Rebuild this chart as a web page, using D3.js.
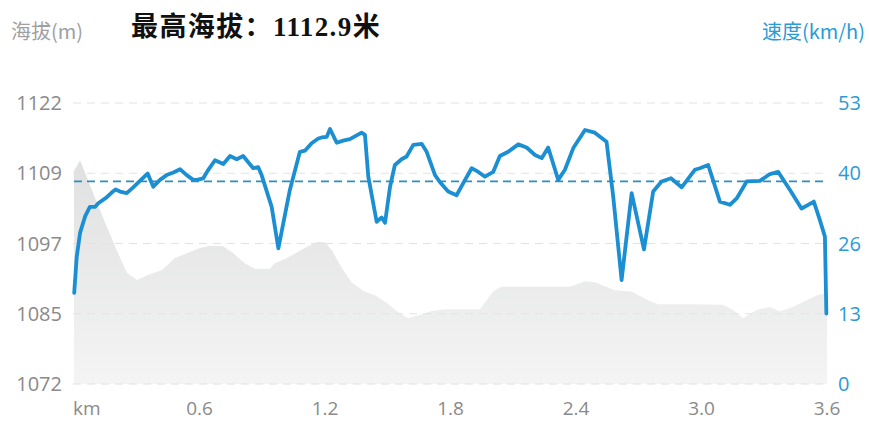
<!DOCTYPE html>
<html><head><meta charset="utf-8">
<script src="https://cdn.jsdelivr.net/npm/d3@7"></script>
<style>html,body{margin:0;padding:0;background:#fff;}svg{display:block;}</style>
</head><body>
<svg id="c" width="869" height="421"></svg>
<script>
// ---- data ----
const elevDist = [0.000,0.029,0.076,0.148,0.210,0.253,0.301,0.354,0.421,0.483,0.541,0.602,0.650,0.712,0.760,0.817,0.865,0.937,0.956,1.018,1.080,1.114,1.166,1.200,1.233,1.281,1.329,1.391,1.439,1.496,1.549,1.597,1.654,1.711,1.773,1.941,2.003,2.027,2.046,2.371,2.443,2.490,2.586,2.667,2.744,2.792,2.945,3.102,3.150,3.198,3.265,3.327,3.375,3.437,3.504,3.552,3.600];
const elevation = [1109.9,1111.8,1107.4,1100.8,1095.3,1091.8,1090.5,1091.4,1092.3,1094.4,1095.3,1096.2,1096.6,1096.5,1095.3,1093.5,1092.5,1092.5,1093.4,1094.4,1095.7,1096.4,1097.3,1097.2,1095.8,1092.6,1090.0,1088.4,1087.8,1086.4,1084.8,1083.7,1084.3,1085.0,1085.3,1085.3,1088.4,1089.0,1089.3,1089.3,1090.3,1090.1,1088.7,1088.4,1086.9,1086.2,1086.2,1086.1,1085.2,1083.7,1085.2,1085.7,1084.9,1085.7,1086.9,1087.8,1088.2];
const speedDist = [0.001,0.013,0.029,0.053,0.076,0.100,0.116,0.156,0.180,0.199,0.220,0.252,0.283,0.315,0.352,0.379,0.411,0.443,0.475,0.507,0.539,0.570,0.587,0.618,0.642,0.674,0.714,0.746,0.778,0.809,0.838,0.857,0.881,0.897,0.945,0.977,1.032,1.080,1.104,1.136,1.168,1.184,1.208,1.224,1.256,1.287,1.319,1.375,1.391,1.407,1.447,1.471,1.487,1.511,1.534,1.566,1.590,1.622,1.662,1.686,1.726,1.749,1.789,1.829,1.861,1.901,1.933,1.965,2.004,2.036,2.076,2.124,2.164,2.204,2.236,2.267,2.315,2.347,2.387,2.443,2.490,2.546,2.578,2.618,2.666,2.725,2.769,2.809,2.854,2.905,2.968,2.992,3.032,3.088,3.136,3.168,3.216,3.279,3.327,3.367,3.423,3.478,3.510,3.537,3.566,3.590,3.597];
const speed = [17.2,24.0,28.5,31.6,33.4,33.4,34.1,35.2,36.1,36.7,36.3,36.0,37.1,38.3,39.7,37.2,38.5,39.4,39.9,40.5,39.4,38.5,38.5,38.8,40.4,42.2,41.5,43.0,42.4,43.0,41.6,40.7,40.9,39.4,33.4,25.6,36.6,43.8,44.0,45.4,46.3,46.5,46.6,48.1,45.5,45.9,46.2,47.4,47.0,39.1,30.6,31.4,30.4,37.2,41.3,42.4,42.9,45.1,45.3,43.8,39.4,38.1,36.3,35.6,37.9,40.7,40.0,39.1,40.0,43.0,43.8,45.2,44.6,43.2,42.6,44.6,38.5,40.4,44.5,47.9,47.4,45.7,35.3,19.6,36.0,25.4,36.3,38.2,38.8,37.1,40.4,40.7,41.3,34.4,33.8,35.0,38.2,38.3,39.6,40.0,36.6,33.1,33.8,34.4,30.9,27.8,13.3];
const avgSpeed = 38.2;
const elevTickLabels = ["1072","1085","1097","1109","1122"];
const speedTickLabels = ["0","13","26","40","53"];
const xTickValues = [0, 0.6, 1.2, 1.8, 2.4, 3.0, 3.6];
const xTickLabels = ["km","0.6","1.2","1.8","2.4","3.0","3.6"];
const titleText = "最高海拔：1112.9米";
const leftAxisTitle = "海拔(m)";
const rightAxisTitle = "速度(km/h)";

// ---- layout ----
const L = 74, R = 827, T = 103, B = 384;
const svg = d3.select("#c");
const x = d3.scaleLinear().domain([0, 3.6]).range([L, R]);
const yE = d3.scaleLinear().domain([1072, 1122]).range([B, T]);
const yS = d3.scaleLinear().domain([0, 53]).range([B, T]);

const defs = svg.append("defs");
const g = defs.append("linearGradient").attr("id","ag")
  .attr("gradientUnits","userSpaceOnUse").attr("x1",0).attr("x2",0).attr("y1",T).attr("y2",B);
g.append("stop").attr("offset","0%").attr("stop-color","#dadbdc");
g.append("stop").attr("offset","100%").attr("stop-color","#f4f4f4");

// area
const elevData = elevDist.map((d,i)=>({d, e: elevation[i]}));
svg.append("path").datum(elevData)
  .attr("fill","url(#ag)")
  .attr("d", d3.area().x(p=>x(p.d)).y0(B).y1(p=>yE(p.e)));

// gridlines
const nT = elevTickLabels.length;
const gridVals = d3.range(nT).map(i => 1072 + i*(1122-1072)/(nT-1));
svg.append("g").selectAll("line").data(gridVals).join("line")
  .attr("x1", L-1).attr("x2", R).attr("y1", d=>yE(d)).attr("y2", d=>yE(d))
  .attr("stroke","#e2e2e2").attr("stroke-width",1).attr("stroke-dasharray","8,6");

// avg line
svg.append("line").attr("x1",L).attr("x2",R).attr("y1",yS(avgSpeed)).attr("y2",yS(avgSpeed))
  .attr("stroke","#2b8fbf").attr("stroke-width",1.8).attr("stroke-dasharray","8,5");

// speed line
const spData = speedDist.map((d,i)=>({d, s: speed[i]}));
svg.append("path").datum(spData)
  .attr("fill","none").attr("stroke","#1b8fd1").attr("stroke-width",3.8)
  .attr("stroke-linejoin","round").attr("stroke-linecap","round")
  .attr("d", d3.line().x(p=>x(p.d)).y(p=>yS(p.s)));

// left axis labels
const fontTick = "'Open Sans', 'Noto Sans', sans-serif";
svg.append("g").selectAll("text").data(gridVals).join("text")
  .attr("x", 62).attr("y", d=>yE(d)).attr("dy","0.36em").attr("text-anchor","end")
  .attr("font-family", fontTick).attr("font-size", 20).attr("fill","#8a8a8a")
  .text((d,i)=>elevTickLabels[i]);

// right axis labels
const spVals = d3.range(speedTickLabels.length).map(i => i*53/(speedTickLabels.length-1));
svg.append("g").selectAll("text").data(spVals).join("text")
  .attr("x", 838).attr("y", d=>yS(d)).attr("dy","0.36em").attr("text-anchor","start")
  .attr("font-family", fontTick).attr("font-size", 20).attr("fill","#2a9bd6")
  .text((d,i)=>speedTickLabels[i]);

// x labels
svg.append("g").selectAll("text").data(xTickValues).join("text")
  .attr("x", (d,i)=> i===0 ? x(d)-1 : x(d)).attr("y", 415)
  .attr("text-anchor", (d,i)=> i===0 ? "start" : "middle")
  .attr("font-family", fontTick).attr("font-size", 19).attr("fill","#8a8a8a")
  .text((d,i)=>xTickLabels[i]);

// titles
svg.append("text").attr("x",11).attr("y",39)
  .attr("font-family","'Noto Sans CJK SC', sans-serif").attr("font-size",20).attr("fill","#a0a0a0")
  .text(leftAxisTitle);
svg.append("text").attr("x",865).attr("y",39).attr("text-anchor","end")
  .attr("font-family","'Noto Sans CJK SC', sans-serif").attr("font-size",20).attr("fill","#2a9bd6")
  .text(rightAxisTitle);
svg.append("text").attr("x",131).attr("y",36)
  .attr("font-family","'Liberation Serif', 'Noto Sans CJK SC', serif").attr("font-weight","bold")
  .attr("font-size",27).attr("letter-spacing","1.4px").attr("fill","#111")
  .text(titleText);
</script>
</body></html>
